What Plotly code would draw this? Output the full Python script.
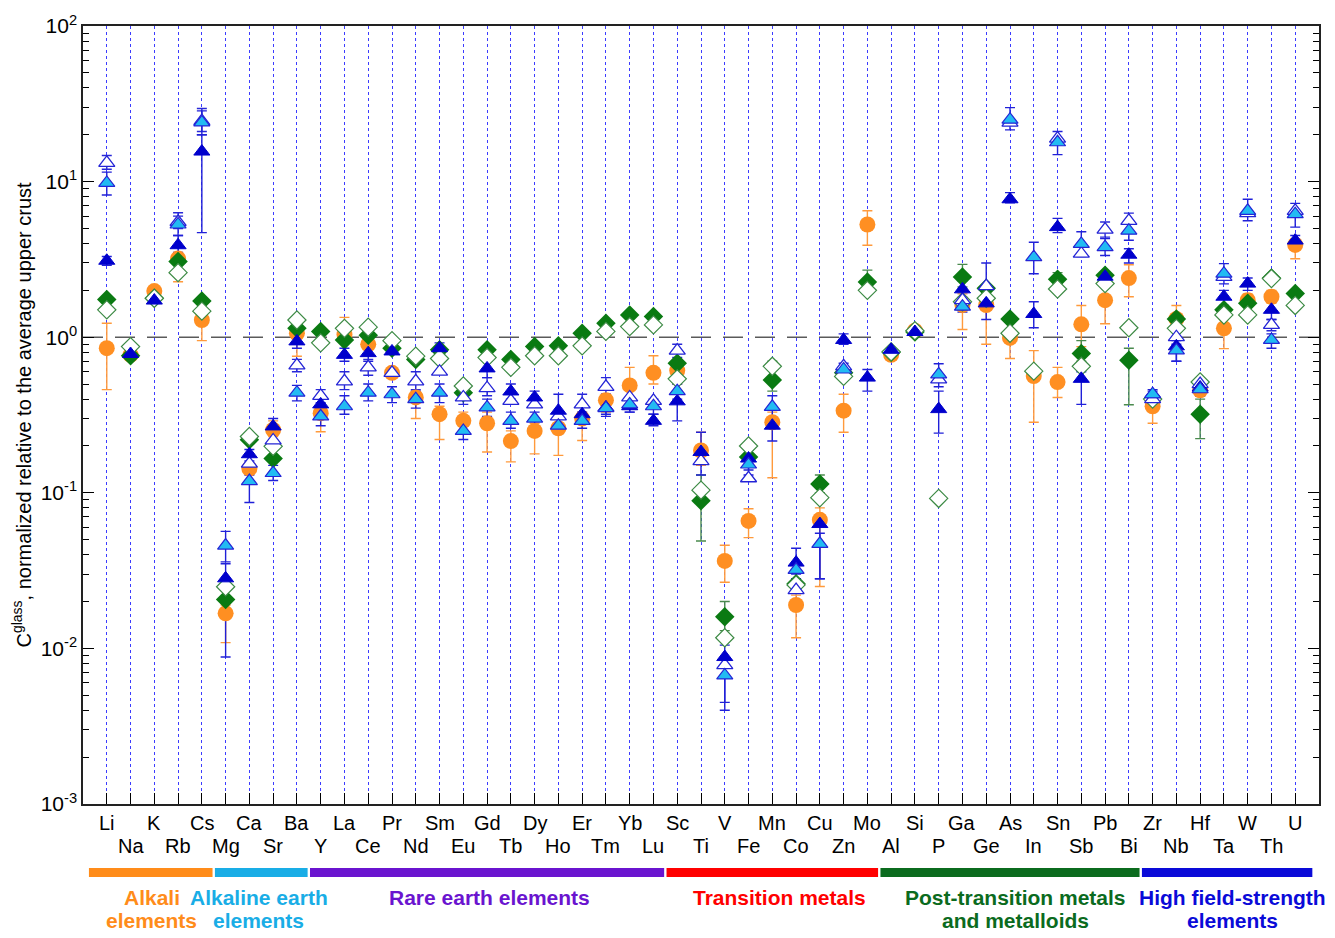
import plotly.graph_objects as go

elements = ["Li", "Na", "K", "Rb", "Cs", "Mg", "Ca", "Sr", "Ba", "Y", "La", "Ce", "Pr", "Nd",
            "Sm", "Eu", "Gd", "Tb", "Dy", "Ho", "Er", "Tm", "Yb", "Lu", "Sc", "Ti", "V", "Fe",
            "Mn", "Co", "Cu", "Zn", "Mo", "Al", "Si", "P", "Ga", "Ge", "As", "In", "Sn", "Sb",
            "Pb", "Bi", "Zr", "Nb", "Hf", "Ta", "W", "Th", "U"]
N = None

# Orange filled circles
orange = [0.85, 0.77, 1.98, 3.2, 1.29, 0.0168, 0.143, 0.254, 1.06, 0.325, 1.04, 0.9, 0.59, 0.41,
          0.32, 0.29, 0.28, 0.215, 0.25, 0.26, 0.30, 0.394, 0.49, 0.59, 0.61, 0.187, 0.0365, 0.066,
          0.284, 0.019, 0.067, 0.337, 5.3, 0.77, 1.1, N, 1.61, 1.61, 0.99, 0.563, 0.515, 1.21,
          1.73, 2.4, 0.36, 1.31, 0.456, 1.14, 1.73, 1.82, 3.92]
orange_hi = [1.23, N, N, 3.5, 1.4, 0.019, N, 0.29, 1.15, 0.35, 1.34, N, N, 0.45,
             0.36, 0.33, 0.33, 0.25, 0.28, 0.30, 0.33, 0.43, 0.64, 0.76, 0.7, 0.245, 0.046, 0.079,
             0.33, 0.022, 0.08, 0.43, 6.5, N, N, N, 1.9, 2.0, 1.1, 0.82, 0.64, 1.6,
             2.2, 2.92, 0.4, 1.6, 0.5, 1.3, 1.9, 2.0, 4.3]
orange_lo = [0.46, N, N, 2.27, 0.95, 0.0109, N, 0.23, 0.755, 0.247, 0.95, N, N, 0.30,
             0.22, 0.24, 0.183, 0.158, 0.178, 0.174, 0.217, 0.33, 0.4, 0.5, 0.5, 0.15, 0.0266, 0.0515,
             0.125, 0.0117, 0.025, 0.245, 3.9, N, N, N, 1.12, 0.9, 0.73, 0.284, 0.41, 0.87,
             1.22, 1.82, 0.28, 1.1, 0.42, 0.845, 1.6, 1.65, 3.19]

# Green filled diamonds
green = [1.75, 0.76, 1.78, 3.07, 1.71, 0.0206, 0.219, 0.166, 1.14, 1.09, 0.96, 1.03, 0.85, 0.72,
         0.83, 0.44, 0.83, 0.72, 0.87, 0.88, 1.06, 1.23, 1.39, 1.36, 0.68, 0.089, 0.016, 0.17,
         0.53, 0.026, 0.114, 0.59, 2.26, 0.80, 1.08, N, 2.44, 2.06, 1.31, N, 2.36, 0.785,
         2.5, 0.71, N, 1.31, 0.32, 1.5, 1.65, 2.4, 1.91]
green_hi = [N, N, N, N, N, N, N, N, N, N, N, N, N, N,
            N, N, N, N, N, N, N, N, N, N, N, 0.13, 0.02, N,
            0.7, N, 0.13, N, 2.7, N, N, N, 2.94, N, N, N, 2.6, 0.95,
            N, 0.85, N, N, 0.4, N, N, N, N]
green_lo = [N, N, N, N, N, N, N, N, N, N, N, N, N, N,
            N, N, N, N, N, N, N, N, N, N, N, 0.049, 0.013, N,
            0.45, N, 0.1, N, 1.9, N, N, N, 2.1, N, N, N, 2.1, 0.7,
            N, 0.368, N, N, 0.223, N, N, N, N]

# Green open diamonds
green_open = [1.5, 0.87, 1.78, 2.6, 1.47, 0.0249, 0.23, 0.199, 1.29, 0.92, 1.14, 1.16, 0.95, 0.755,
              0.73, 0.486, 0.74, 0.64, 0.76, 0.76, 0.88, 1.09, 1.17, 1.2, 0.54, 0.104, 0.0117, 0.2,
              0.65, 0.0256, 0.093, 0.56, 2.0, 0.805, 1.1, 0.092, 1.69, 1.78, 1.06, 0.605, 2.04, 0.65,
              2.21, 1.15, 0.40, 1.14, 0.515, 1.39, 1.39, 2.38, 1.6]

# Dark blue filled triangles
blue = [3.1, 0.78, 1.72, 3.9, 15.6, 0.0282, 0.177, 0.267, 0.94, 0.37, 0.77, 0.79, 0.81, N,
        0.85, N, 0.63, 0.448, 0.41, 0.337, 0.32, 0.354, 0.36, 0.29, 0.387, 0.183, 0.0088, 0.166,
        0.27, 0.0356, 0.063, 0.96, 0.55, 0.83, 1.08, 0.345, 2.03, 1.65, 7.7, 1.41, 5.1, 0.54,
        2.45, 3.39, 0.43, 0.874, 0.475, 1.82, 2.21, 1.5, 4.18]
blue_hi = [3.3, N, N, 4.5, 20.0, 0.035, 0.19, 0.3, 1.05, 0.42, 0.85, 0.88, N, N,
           0.92, N, 0.7, 0.5, 0.45, 0.43, 0.36, 0.39, 0.4, 0.32, 0.45, 0.245, 0.0105, 0.19,
           0.3, 0.044, 0.07, 1.05, 0.62, N, N, 0.45, 2.3, 3.0, 8.5, 1.69, 5.8, 0.6,
           N, 3.7, 0.45, 0.95, 0.5, 2.0, 2.4, 1.7, 4.5]
blue_lo = [2.9, N, N, 3.5, 4.7, 0.0088, 0.16, 0.24, 0.85, 0.33, 0.7, 0.7, N, N,
           0.78, N, 0.55, 0.4, 0.37, 0.3, 0.28, 0.32, 0.33, 0.27, 0.29, 0.13, 0.004, 0.14,
           0.215, 0.03, 0.028, 0.9, 0.45, N, N, 0.242, 1.8, 1.3, 7.3, 1.15, 4.7, 0.37,
           N, 3.0, 0.38, 0.7, 0.42, 1.6, 2.0, 1.3, 3.8]

# Light blue (cyan) filled triangles
cyan = [9.8, N, N, 5.3, 24.0, 0.0458, 0.119, 0.134, 0.44, 0.31, 0.36, 0.44, 0.43, 0.40,
        0.44, 0.25, 0.354, 0.29, 0.30, 0.27, 0.29, 0.35, 0.37, 0.36, 0.45, N, 0.0067, 0.152,
        0.357, 0.032, 0.047, 0.62, N, N, N, 0.577, 1.57, N, 25.0, 3.27, 17.9, 3.98,
        3.79, 4.84, 0.43, 0.824, 0.463, 2.56, 6.49, 0.96, 6.18]
cyan_hi = [11.5, N, N, 6.0, 28.5, 0.0565, 0.13, 0.15, 0.49, 0.34, 0.42, 0.5, 0.48, 0.45,
           0.5, 0.28, 0.4, 0.33, 0.33, 0.3, 0.32, 0.39, 0.4, 0.4, 0.5, N, 0.0075, 0.17,
           0.42, 0.036, 0.055, 0.68, N, N, N, 0.675, 1.75, N, 29.9, 4.08, 21.0, 4.76,
           4.3, 6.27, 0.46, 0.9, 0.5, 2.97, 7.7, 1.05, 7.25]
cyan_lo = [8.2, N, N, 4.5, 20.0, 0.036, 0.0866, 0.12, 0.39, 0.27, 0.32, 0.39, 0.38, 0.35,
           0.38, 0.22, 0.31, 0.26, 0.27, 0.24, 0.26, 0.31, 0.33, 0.32, 0.4, N, 0.0045, 0.13,
           0.3, 0.028, 0.028, 0.56, N, N, N, 0.48, 1.45, N, 21.5, 2.56, 14.9, 3.3,
           3.35, 4.2, 0.4, 0.7, 0.42, 2.2, 5.6, 0.85, 5.1]

# Open triangles (white fill, blue outline)
tri_open = [13.2, N, N, 5.5, 24.5, N, 0.154, 0.217, 0.66, 0.42, 0.52, 0.64, 0.59, 0.52,
            0.6, 0.41, 0.47, 0.39, 0.37, 0.31, 0.37, 0.48, 0.41, 0.39, 0.82, 0.16, 0.0078, 0.124,
            N, 0.0237, N, 0.65, N, N, N, 0.536, 1.73, 2.13, 23.9, N, 18.9, 3.44,
            4.91, 5.6, 0.40, 1.0, 0.5, 2.44, 6.27, 1.2, 6.49]
tri_hi = [14.7, N, N, 6.3, 29.5, N, N, N, 0.72, 0.46, 0.6, 0.72, N, 0.6,
          N, 0.46, 0.55, N, N, N, 0.43, 0.55, 0.48, N, 0.9, N, N, N,
          N, N, N, N, N, N, N, N, N, N, N, N, N, N,
          5.5, N, N, N, N, N, N, 1.3, N]
tri_lo = [12.0, N, N, 5.0, 21.0, N, N, N, 0.6, 0.38, 0.46, 0.57, N, 0.46,
          N, 0.37, 0.42, N, N, N, 0.33, 0.43, 0.37, N, 0.74, N, N, N,
          N, N, N, N, N, N, N, N, N, N, N, N, N, N,
          4.4, N, N, N, N, N, N, 1.1, N]

# element groups: (label lines, colour, first index, last index)
groups = [
    (["Alkali", "elements"], "#FF8C1A", 1, 5),
    (["Alkaline earth", "elements"], "#19ADE6", 6, 9),
    (["Rare earth elements"], "#6A14CF", 10, 24),
    (["Transition metals"], "#FF0000", 25, 33),
    (["Post-transition metals", "and metalloids"], "#0B6B1E", 34, 44),
    (["High field-strength", "elements"], "#0A0AD8", 45, 51),
]
group_label_x = [2.9, 7.4, 17.1, 29.3, 39.25, 48.35]

xs = list(range(1, len(elements) + 1))
FONT = "Liberation Sans, Arial, sans-serif"

fig = go.Figure()

# reference line at 1
fig.add_trace(go.Scatter(x=[0, len(elements) + 1], y=[1, 1], mode="lines",
                         line=dict(color="#5a5a5a", width=1.6, dash="20px,12px"),
                         hoverinfo="skip", showlegend=False))


def err_trace(vals, hi, lo, color):
    px, py, pp, pm = [], [], [], []
    for xi, v, h, l in zip(xs, vals, hi, lo):
        if v is None or (h is None and l is None):
            continue
        px.append(xi)
        py.append(v)
        pp.append((h - v) if h is not None else 0)
        pm.append((v - l) if l is not None else 0)
    return go.Scatter(x=px, y=py, mode="markers", marker=dict(size=1, opacity=0),
                      error_y=dict(type="data", symmetric=False, array=pp, arrayminus=pm,
                                   color=color, thickness=1.4, width=5),
                      hoverinfo="skip", showlegend=False)


fig.add_trace(err_trace(orange, orange_hi, orange_lo, "#FF9A3C"))
fig.add_trace(err_trace(green, green_hi, green_lo, "#4A8A4E"))
fig.add_trace(err_trace(tri_open, tri_hi, tri_lo, "#2828D8"))
fig.add_trace(err_trace(blue, blue_hi, blue_lo, "#2020D8"))
fig.add_trace(err_trace(cyan, cyan_hi, cyan_lo, "#2020D8"))


def pts(vals):
    px, py = [], []
    for xi, v in zip(xs, vals):
        if v is not None:
            px.append(xi)
            py.append(v)
    return px, py


px, py = pts(orange)
fig.add_trace(go.Scatter(x=px, y=py, mode="markers", showlegend=False,
                         marker=dict(symbol="circle", size=16, color="#FF8F22",
                                     line=dict(width=0))))
px, py = pts(green)
fig.add_trace(go.Scatter(x=px, y=py, mode="markers", showlegend=False,
                         marker=dict(symbol="diamond", size=15, color="#0A7A12",
                                     line=dict(width=0))))
px, py = pts(green_open)
fig.add_trace(go.Scatter(x=px, y=py, mode="markers", showlegend=False,
                         marker=dict(symbol="diamond", size=14, color="white",
                                     line=dict(width=1.2, color="#3C8A44"))))
px, py = pts(tri_open)
fig.add_trace(go.Scatter(x=px, y=py, mode="markers", showlegend=False,
                         marker=dict(symbol="triangle-up", size=14, color="white",
                                     line=dict(width=1.3, color="#2424D6"))))
px, py = pts(blue)
fig.add_trace(go.Scatter(x=px, y=py, mode="markers", showlegend=False,
                         marker=dict(symbol="triangle-up", size=14, color="#0000CC",
                                     line=dict(width=1, color="#0000CC"))))
px, py = pts(cyan)
fig.add_trace(go.Scatter(x=px, y=py, mode="markers", showlegend=False,
                         marker=dict(symbol="triangle-up", size=14, color="#22BBF2",
                                     line=dict(width=1.2, color="#2424D6"))))

annotations = []
for i, name in enumerate(elements):
    row = i % 2
    annotations.append(dict(x=xs[i], y=-0.024 if row == 0 else -0.054, xref="x", yref="paper",
                            text=name, showarrow=False, yanchor="middle",
                            font=dict(family=FONT, size=20, color="black")))

shapes = []
ngroups = len(groups)
for gi, (lines, color, first, last) in enumerate(groups):
    x0 = first - 0.45 if gi > 0 else first - 0.75
    x1 = last + 0.45 if gi < ngroups - 1 else last + 0.72
    shapes.append(dict(type="line", xref="x", yref="paper", x0=x0, x1=x1, y0=-0.088, y1=-0.088,
                       line=dict(color=color, width=9)))

line_y = [-0.1197, -0.1503]
for (lines, color, first, last), lx in zip(groups, group_label_x):
    for li, txt in enumerate(lines):
        annotations.append(dict(x=lx, y=line_y[li], xref="x", yref="paper",
                                text="<b>" + txt + "</b>", showarrow=False, yanchor="middle",
                                font=dict(family=FONT, size=21, color=color)))

major = [1e-3, 1e-2, 1e-1, 1, 10, 100]
major_txt = ["10<sup>-3</sup>", "10<sup>-2</sup>", "10<sup>-1</sup>", "10<sup>0</sup>",
             "10<sup>1</sup>", "10<sup>2</sup>"]
minor_vals = [m * 10 ** e for e in range(-3, 2) for m in range(2, 10)]

fig.update_layout(
    width=1335, height=938,
    margin=dict(l=83, r=16, t=19, b=134),
    paper_bgcolor="white", plot_bgcolor="white",
    font=dict(family=FONT, size=20, color="black"),
    showlegend=False,
    annotations=annotations,
    shapes=shapes,
    xaxis=dict(range=[0, len(elements) + 1], tickvals=xs, showticklabels=False,
               ticks="inside", ticklen=11, tickwidth=1.2, tickcolor="black",
               showgrid=True, gridcolor="#3C3CFF", griddash="dot", gridwidth=1,
               showline=True, linecolor="#222", linewidth=1.5, mirror=True, zeroline=False),
    yaxis=dict(type="log", range=[-3, 2], tickvals=major, ticktext=major_txt,
               ticks="inside", ticklen=11, tickwidth=1.2, tickcolor="black",
               minor=dict(tickvals=minor_vals, ticks="inside", ticklen=6, tickwidth=1.2,
                          tickcolor="black", showgrid=False),
               showgrid=False, showline=True, linecolor="#222", linewidth=1.5, mirror="ticks",
               zeroline=False, tickfont=dict(size=21),
               title=dict(text="C<sup>glass</sup>, normalized relative to the average upper crust",
                          font=dict(size=20), standoff=4)),
)

fig.write_html("out.html")
